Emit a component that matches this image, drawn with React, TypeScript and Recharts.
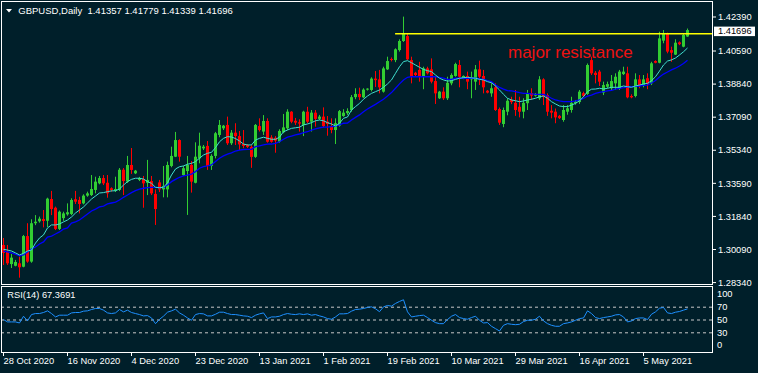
import React from 'react'
import { ComposedChart, Bar, Line, XAxis, YAxis, ReferenceLine } from 'recharts'

const BG = '#001f2a'
const BULL = '#32cd32'
const BEAR = '#ff0000'
const FONT = '"Liberation Sans", Arial, sans-serif'

// daily GBPUSD bars, 28 Oct 2020 .. 18 May 2021 (Sunday bars included)
const opens = [
  1.3033, 1.2997, 1.2932, 1.2923, 1.2936, 1.2918, 1.3080, 1.2945, 1.3148, 1.3158,
  1.3170, 1.3161, 1.3276, 1.3230, 1.3118, 1.3175, 1.3195, 1.3197, 1.3275, 1.3271,
  1.3253, 1.3294, 1.3297, 1.3324, 1.3359, 1.3387, 1.3362, 1.3333, 1.3320, 1.3324,
  1.3431, 1.3368, 1.3456, 1.3412, 1.3377, 1.3382, 1.3362, 1.3371, 1.3303, 1.3364,
  1.3327, 1.3327, 1.3451, 1.3500, 1.3588, 1.3403, 1.3424, 1.3456, 1.3362, 1.3491,
  1.3544, 1.3557, 1.3451, 1.3504, 1.3615, 1.3650, 1.3668, 1.3571, 1.3627, 1.3609,
  1.3567, 1.3562, 1.3552, 1.3499, 1.3662, 1.3633, 1.3689, 1.3602, 1.3600, 1.3579,
  1.3629, 1.3650, 1.3738, 1.3690, 1.3682, 1.3668, 1.3738, 1.3685, 1.3733, 1.3700,
  1.3712, 1.3685, 1.3662, 1.3641, 1.3664, 1.3715, 1.3730, 1.3747, 1.3815, 1.3832,
  1.3814, 1.3855, 1.3853, 1.3913, 1.3909, 1.3844, 1.3962, 1.4017, 1.4011, 1.4064,
  1.4112, 1.4138, 1.4011, 1.3944, 1.3959, 1.3923, 1.3967, 1.3962, 1.3900, 1.3809,
  1.3844, 1.3809, 1.3888, 1.3927, 1.3985, 1.3915, 1.3927, 1.3909, 1.3897, 1.3962,
  1.3927, 1.3849, 1.3835, 1.3867, 1.3752, 1.3673, 1.3738, 1.3800, 1.3785, 1.3764,
  1.3738, 1.3783, 1.3836, 1.3823, 1.3809, 1.3909, 1.3826, 1.3743, 1.3738, 1.3716,
  1.3694, 1.3738, 1.3747, 1.3783, 1.3789, 1.3836, 1.3832, 1.4011, 1.3944, 1.3950,
  1.3839, 1.3870, 1.3862, 1.3888, 1.3862, 1.3937, 1.3941, 1.3821, 1.3821, 1.3909,
  1.3879, 1.3915, 1.3888, 1.4006, 1.3997, 1.4114, 1.4153, 1.4064, 1.4040, 1.4105,
  1.4082, 1.41357,
]
const highs = [
  1.3070, 1.3033, 1.2985, 1.2954, 1.2971, 1.3086, 1.3148, 1.3169, 1.3191, 1.3183,
  1.3218, 1.3283, 1.3319, 1.3236, 1.3215, 1.3209, 1.3253, 1.3280, 1.3319, 1.3288,
  1.3301, 1.3315, 1.3403, 1.3394, 1.3398, 1.3403, 1.3403, 1.3338, 1.3394, 1.3440,
  1.3440, 1.3504, 1.3546, 1.3430, 1.3393, 1.3398, 1.3483, 1.3398, 1.3327, 1.3377,
  1.3451, 1.3474, 1.3553, 1.3631, 1.3592, 1.3451, 1.3504, 1.3477, 1.3576, 1.3627,
  1.3562, 1.3583, 1.3513, 1.3631, 1.3694, 1.3668, 1.3712, 1.3641, 1.3677, 1.3636,
  1.3641, 1.3567, 1.3561, 1.3673, 1.3703, 1.3720, 1.3703, 1.3614, 1.3609, 1.3645,
  1.3726, 1.3751, 1.3741, 1.3705, 1.3698, 1.3743, 1.3764, 1.3747, 1.3747, 1.3721,
  1.3761, 1.3715, 1.3703, 1.3703, 1.3747, 1.3751, 1.3756, 1.3826, 1.3862, 1.3865,
  1.3862, 1.3862, 1.3920, 1.3953, 1.3959, 1.3976, 1.4029, 1.4025, 1.4073, 1.4121,
  1.4241, 1.4153, 1.4029, 1.3949, 1.4002, 1.3976, 1.3976, 1.4020, 1.3923, 1.3848,
  1.3867, 1.3923, 1.3941, 1.3997, 1.4011, 1.3930, 1.3950, 1.3950, 1.3985, 1.4008,
  1.3959, 1.3853, 1.3888, 1.3888, 1.3760, 1.3760, 1.3809, 1.3817, 1.3853, 1.3817,
  1.3809, 1.3853, 1.3862, 1.3836, 1.3926, 1.3915, 1.3835, 1.3773, 1.3755, 1.3721,
  1.3773, 1.3773, 1.3817, 1.3800, 1.3853, 1.3844, 1.3993, 1.4029, 1.3953, 1.3959,
  1.3897, 1.3897, 1.3932, 1.3941, 1.3959, 1.3976, 1.3976, 1.3830, 1.3941, 1.3932,
  1.3932, 1.3941, 1.4002, 1.4010, 1.4161, 1.4170, 1.4156, 1.4082, 1.4121, 1.4110,
  1.4153, 1.41779,
]
const lows = [
  1.2927, 1.2927, 1.2911, 1.2920, 1.2860, 1.2915, 1.2939, 1.2939, 1.3138, 1.3151,
  1.3126, 1.3128, 1.3191, 1.3112, 1.3112, 1.3161, 1.3188, 1.3191, 1.3250, 1.3200,
  1.3248, 1.3288, 1.3292, 1.3306, 1.3354, 1.3350, 1.3283, 1.3315, 1.3313, 1.3318,
  1.3297, 1.3361, 1.3409, 1.3408, 1.3371, 1.3230, 1.3297, 1.3297, 1.3139, 1.3313,
  1.3285, 1.3285, 1.3444, 1.3498, 1.3474, 1.3398, 1.3192, 1.3310, 1.3359, 1.3465,
  1.3535, 1.3430, 1.3430, 1.3491, 1.3603, 1.3641, 1.3562, 1.3562, 1.3562, 1.3535,
  1.3545, 1.3546, 1.3441, 1.3494, 1.3633, 1.3615, 1.3574, 1.3574, 1.3521, 1.3574,
  1.3624, 1.3641, 1.3677, 1.3668, 1.3633, 1.3609, 1.3677, 1.3633, 1.3659, 1.3694,
  1.3655, 1.3611, 1.3624, 1.3567, 1.3659, 1.3711, 1.3721, 1.3738, 1.3804, 1.3800,
  1.3810, 1.3850, 1.3845, 1.3869, 1.3835, 1.3839, 1.3959, 1.4004, 1.4000, 1.4056,
  1.4107, 1.4011, 1.3888, 1.3925, 1.3897, 1.3857, 1.3935, 1.3888, 1.3779, 1.3805,
  1.3800, 1.3800, 1.3878, 1.3923, 1.3867, 1.3910, 1.3857, 1.3809, 1.3853, 1.3879,
  1.3835, 1.3835, 1.3817, 1.3742, 1.3668, 1.3656, 1.3719, 1.3778, 1.3716, 1.3708,
  1.3703, 1.3747, 1.3800, 1.3818, 1.3800, 1.3773, 1.3716, 1.3703, 1.3677, 1.3699,
  1.3685, 1.3722, 1.3733, 1.3775, 1.3779, 1.3815, 1.3827, 1.3932, 1.3888, 1.3874,
  1.3826, 1.3862, 1.3853, 1.3853, 1.3853, 1.3932, 1.3809, 1.3809, 1.3814, 1.3862,
  1.3867, 1.3857, 1.3879, 1.3994, 1.3994, 1.4100, 1.4047, 1.4002, 1.4038, 1.4090,
  1.4079, 1.41339,
]
const closes = [
  1.2991, 1.2936, 1.2966, 1.2943, 1.2915, 1.3080, 1.2945, 1.3148, 1.3156, 1.3172,
  1.3160, 1.3278, 1.3223, 1.3118, 1.3209, 1.3200, 1.3206, 1.3271, 1.3262, 1.3250,
  1.3294, 1.3306, 1.3329, 1.3368, 1.3387, 1.3359, 1.3306, 1.3324, 1.3329, 1.3431,
  1.3371, 1.3456, 1.3430, 1.3426, 1.3387, 1.3359, 1.3377, 1.3306, 1.3223, 1.3327,
  1.3345, 1.3456, 1.3504, 1.3588, 1.3500, 1.3439, 1.3456, 1.3368, 1.3500, 1.3558,
  1.3553, 1.3451, 1.3504, 1.3624, 1.3668, 1.3664, 1.3571, 1.3627, 1.3609, 1.3565,
  1.3557, 1.3552, 1.3499, 1.3668, 1.3641, 1.3689, 1.3579, 1.3579, 1.3585, 1.3636,
  1.3655, 1.3738, 1.3685, 1.3680, 1.3675, 1.3738, 1.3685, 1.3733, 1.3700, 1.3712,
  1.3662, 1.3673, 1.3641, 1.3677, 1.3741, 1.3733, 1.3742, 1.3815, 1.3832, 1.3815,
  1.3855, 1.3860, 1.3913, 1.3905, 1.3867, 1.3967, 1.4006, 1.4013, 1.4068, 1.4112,
  1.4153, 1.4015, 1.3923, 1.3932, 1.3923, 1.3967, 1.3941, 1.3897, 1.3835, 1.3844,
  1.3809, 1.3891, 1.3932, 1.3990, 1.3923, 1.3927, 1.3897, 1.3918, 1.3962, 1.3923,
  1.3867, 1.3839, 1.3862, 1.3747, 1.3680, 1.3747, 1.3796, 1.3789, 1.3747, 1.3738,
  1.3785, 1.3836, 1.3823, 1.3832, 1.3909, 1.3817, 1.3738, 1.3733, 1.3708, 1.3704,
  1.3747, 1.3756, 1.3785, 1.3791, 1.3844, 1.3822, 1.3985, 1.3941, 1.3932, 1.3897,
  1.3879, 1.3884, 1.3900, 1.3923, 1.3950, 1.3950, 1.3814, 1.3814, 1.3909, 1.3879,
  1.3909, 1.3885, 1.3994, 1.3997, 1.4126, 1.4153, 1.4056, 1.4050, 1.4103, 1.4095,
  1.4144, 1.41696,
]
// fast MA (turquoise) and slow MA (blue)
const maFast = [
  1.3010, 1.3006, 1.3001, 1.2991, 1.2980, 1.2989, 1.3001, 1.3006, 1.3043, 1.3070,
  1.3086, 1.3123, 1.3139, 1.3139, 1.3144, 1.3155, 1.3165, 1.3181, 1.3202, 1.3218,
  1.3234, 1.3255, 1.3276, 1.3292, 1.3308, 1.3310, 1.3315, 1.3319, 1.3320, 1.3329,
  1.3350, 1.3368, 1.3380, 1.3386, 1.3386, 1.3382, 1.3368, 1.3359, 1.3338, 1.3336,
  1.3338, 1.3362, 1.3403, 1.3435, 1.3447, 1.3451, 1.3460, 1.3465, 1.3474, 1.3492,
  1.3509, 1.3518, 1.3523, 1.3548, 1.3579, 1.3597, 1.3606, 1.3604, 1.3596, 1.3583,
  1.3567, 1.3562, 1.3562, 1.3588, 1.3597, 1.3603, 1.3597, 1.3592, 1.3592, 1.3603,
  1.3632, 1.3641, 1.3650, 1.3653, 1.3656, 1.3668, 1.3673, 1.3680, 1.3690, 1.3694,
  1.3690, 1.3680, 1.3673, 1.3662, 1.3677, 1.3703, 1.3710, 1.3747, 1.3765, 1.3782,
  1.3804, 1.3821, 1.3835, 1.3844, 1.3853, 1.3867, 1.3885, 1.3906, 1.3941, 1.3976,
  1.4003, 1.4008, 1.3997, 1.3985, 1.3973, 1.3962, 1.3955, 1.3950, 1.3932, 1.3915,
  1.3906, 1.3900, 1.3902, 1.3909, 1.3915, 1.3918, 1.3920, 1.3917, 1.3915, 1.3909,
  1.3906, 1.3897, 1.3891, 1.3874, 1.3853, 1.3830, 1.3809, 1.3800, 1.3796, 1.3791,
  1.3795, 1.3800, 1.3804, 1.3809, 1.3817, 1.3821, 1.3809, 1.3791, 1.3779, 1.3768,
  1.3765, 1.3765, 1.3773, 1.3782, 1.3796, 1.3817, 1.3844, 1.3857, 1.3858, 1.3862,
  1.3858, 1.3862, 1.3867, 1.3867, 1.3867, 1.3874, 1.3870, 1.3867, 1.3874, 1.3879,
  1.3885, 1.3888, 1.3902, 1.3923, 1.3953, 1.3985, 1.4006, 1.4012, 1.4022, 1.4038,
  1.4055, 1.4075,
]
const maSlow = [
  1.3001, 1.2997, 1.2991, 1.2985, 1.2975, 1.2980, 1.2996, 1.3012, 1.3022, 1.3038,
  1.3049, 1.3075, 1.3080, 1.3091, 1.3102, 1.3117, 1.3123, 1.3149, 1.3155, 1.3165,
  1.3181, 1.3197, 1.3213, 1.3223, 1.3234, 1.3239, 1.3250, 1.3255, 1.3260, 1.3271,
  1.3285, 1.3297, 1.3310, 1.3320, 1.3328, 1.3333, 1.3336, 1.3338, 1.3338, 1.3336,
  1.3338, 1.3350, 1.3368, 1.3380, 1.3391, 1.3398, 1.3403, 1.3408, 1.3421, 1.3439,
  1.3447, 1.3451, 1.3456, 1.3474, 1.3492, 1.3504, 1.3514, 1.3520, 1.3530, 1.3535,
  1.3538, 1.3539, 1.3539, 1.3553, 1.3557, 1.3562, 1.3566, 1.3567, 1.3571, 1.3579,
  1.3592, 1.3603, 1.3609, 1.3615, 1.3620, 1.3627, 1.3632, 1.3641, 1.3647, 1.3653,
  1.3656, 1.3656, 1.3659, 1.3662, 1.3668, 1.3677, 1.3678, 1.3694, 1.3708, 1.3721,
  1.3738, 1.3752, 1.3765, 1.3777, 1.3791, 1.3804, 1.3821, 1.3839, 1.3862, 1.3885,
  1.3906, 1.3920, 1.3923, 1.3923, 1.3923, 1.3923, 1.3923, 1.3923, 1.3923, 1.3920,
  1.3915, 1.3909, 1.3909, 1.3915, 1.3915, 1.3915, 1.3915, 1.3915, 1.3915, 1.3912,
  1.3909, 1.3902, 1.3897, 1.3879, 1.3867, 1.3857, 1.3849, 1.3848, 1.3844, 1.3839,
  1.3835, 1.3835, 1.3832, 1.3830, 1.3830, 1.3830, 1.3821, 1.3809, 1.3800, 1.3795,
  1.3791, 1.3791, 1.3791, 1.3795, 1.3800, 1.3808, 1.3821, 1.3826, 1.3835, 1.3840,
  1.3844, 1.3848, 1.3851, 1.3857, 1.3861, 1.3865, 1.3870, 1.3871, 1.3872, 1.3874,
  1.3877, 1.3879, 1.3890, 1.3903, 1.3922, 1.3937, 1.3948, 1.3959, 1.3968, 1.3980,
  1.3993, 1.4010,
]
// RSI(14)
const rsi = [
  50.7, 47.0, 47.0, 47.0, 45.4, 55.9, 48.6, 58.5, 60.1, 60.1,
  61.7, 64.3, 60.1, 54.8, 57.5, 57.5, 57.5, 61.1, 61.7, 61.7,
  63.8, 64.3, 66.4, 68.0, 68.0, 65.4, 61.1, 60.1, 61.1, 66.4,
  62.7, 65.4, 61.7, 60.1, 58.5, 56.4, 56.9, 53.2, 44.3, 51.0,
  56.0, 62.2, 64.3, 66.9, 61.1, 57.5, 53.2, 49.6, 58.5, 60.1,
  59.6, 56.4, 56.4, 59.0, 62.2, 62.2, 60.1, 58.5, 58.5, 57.5,
  56.4, 55.9, 53.8, 57.5, 59.6, 61.1, 52.2, 54.8, 54.8, 55.9,
  58.5, 60.1, 59.0, 58.5, 59.6, 58.5, 59.6, 57.5, 58.5, 56.4,
  54.8, 52.2, 51.2, 54.8, 59.6, 59.6, 60.1, 63.8, 66.4, 66.9,
  68.0, 69.6, 70.6, 67.5, 63.0, 70.6, 72.7, 71.7, 75.9, 79.0,
  81.6, 62.7, 54.8, 55.9, 56.9, 57.5, 53.8, 49.6, 45.9, 44.3,
  44.3, 50.7, 55.9, 58.5, 53.8, 52.2, 51.2, 53.8, 55.9, 49.6,
  45.4, 45.9, 40.2, 36.5, 32.8, 41.7, 44.3, 43.3, 42.7, 43.3,
  47.5, 49.6, 49.6, 51.2, 55.9, 48.6, 44.3, 41.7, 40.2, 40.2,
  44.3, 45.4, 47.0, 49.6, 52.2, 53.2, 64.3, 60.1, 53.8, 52.2,
  53.8, 54.8, 55.9, 58.0, 58.5, 54.8, 47.0, 48.6, 52.2, 53.2,
  53.2, 50.7, 59.0, 62.7, 68.5, 69.6, 61.1, 60.1, 62.2, 63.3,
  65.4, 67.37,
]

const dateTicks = [0, 16, 32, 48, 64, 80, 96, 112, 128, 144, 160]
const dateLabels = [
  '28 Oct 2020', '16 Nov 2020', '4 Dec 2020', '23 Dec 2020', '13 Jan 2021', '1 Feb 2021',
  '19 Feb 2021', '10 Mar 2021', '29 Mar 2021', '16 Apr 2021', '5 May 2021',
]
const priceTicks = [1.2834, 1.3009, 1.3184, 1.3359, 1.3534, 1.3709, 1.3884, 1.4059, 1.4239]
const rsiTicks = [0, 30, 50, 70, 100]
const rsiLevels = [70, 50, 30]

const resistance = 1.415
const resistanceFrom = 97.9
const lastClose = closes[closes.length - 1]

const rows = opens.map((open, i) => ({
  i,
  open,
  high: highs[i],
  low: lows[i],
  close: closes[i],
  range: [lows[i], highs[i]],
  maFast: maFast[i],
  maSlow: maSlow[i],
  rsi: rsi[i],
}))

// bars 4px apart, a bit of empty space on the right like MT4
const xDomain: [number, number] = [-0.375, 177.125]

function Candle(props: any) {
  const { x, y, width, height, payload } = props
  if (x == null || !payload) return null
  const top = Math.min(y, y + height)
  const h = Math.abs(height)
  const { open, close, high, low } = payload
  const span = high - low || 1e-9
  const py = (v: number) => top + ((high - v) / span) * h
  const cx = Math.round(x + width / 2 - 0.5)
  const col = close >= open ? BULL : BEAR
  const bTop = py(Math.max(open, close))
  const bBot = py(Math.min(open, close))
  return (
    <g>
      <rect x={cx} y={top} width={1} height={Math.max(h, 1)} fill={col} />
      <rect x={cx - 1} y={bTop} width={3} height={Math.max(bBot - bTop, 1)} fill={col} />
    </g>
  )
}

function PriceTick(props: any) {
  const { x, y, payload } = props
  return (
    <text x={x} y={y + 3.2} fill="#fff" fontSize={9.3} fontFamily={FONT}>
      {payload.value.toFixed(5)}
    </text>
  )
}

// MT4 keeps the 0 and 100 labels inside the sub-window
function RsiTick(props: any) {
  const { x, y, payload } = props
  const cy = Math.min(Math.max(y, 6.5), 58)
  return (
    <text x={x} y={cy + 3.2} fill="#fff" fontSize={9.3} fontFamily={FONT}>
      {payload.value}
    </text>
  )
}

function DateTick(props: any) {
  const { x, y, payload } = props
  const label = dateLabels[dateTicks.indexOf(payload.value)]
  return (
    <text x={x} y={y + 6} fill="#fff" fontSize={9.3} fontFamily={FONT}>
      {label}
    </text>
  )
}

function PriceBox(props: any) {
  const vb = props.viewBox
  if (!vb) return null
  const x = vb.x + vb.width + 2
  const y = vb.y
  return (
    <g>
      <rect x={x} y={y - 3.5} width={41} height={9.5} fill="#fff" />
      <text x={x + 4} y={y + 4.2} fontSize={9.3} fontFamily={FONT} fill="#000">
        {lastClose.toFixed(5)}
      </text>
    </g>
  )
}

export default function App() {
  return (
    <div style={{ position: 'relative', width: 758, height: 373, background: BG, overflow: 'hidden' }}>
      <style>{'body{margin:0}'}</style>
      <div style={{ position: 'absolute', left: 0, top: 0 }}>
        <ComposedChart width={758} height={290} data={rows} margin={{ top: 2, right: 0, bottom: 6, left: 2 }}>
          <XAxis type="number" dataKey="i" domain={xDomain} hide allowDataOverflow />
          <YAxis
            orientation="right"
            width={46}
            domain={[1.28265, 1.43183]}
            ticks={priceTicks}
            interval={0}
            tick={<PriceTick />}
            tickSize={4}
            tickMargin={2}
            axisLine={false}
            tickLine={{ stroke: '#fff' }}
            allowDataOverflow
          />
          <Bar dataKey="range" barSize={3} shape={<Candle />} isAnimationActive={false} />
          <Line type="linear" dataKey="maSlow" stroke="#0000ff" strokeWidth={1.3} dot={false} isAnimationActive={false} />
          <Line type="linear" dataKey="maFast" stroke="#40e0d0" strokeWidth={1} dot={false} isAnimationActive={false} />
          <ReferenceLine
            segment={[{ x: resistanceFrom, y: resistance }, { x: xDomain[1], y: resistance }]}
            stroke="#ffff00"
            strokeWidth={1.5}
          />
          <ReferenceLine y={lastClose} stroke="none" label={<PriceBox />} />
        </ComposedChart>
      </div>
      <div style={{ position: 'absolute', left: 0, top: 287 }}>
        <ComposedChart width={758} height={86} data={rows} margin={{ top: 1, right: 0, bottom: 0, left: 2 }}>
          <XAxis
            type="number"
            dataKey="i"
            domain={xDomain}
            ticks={dateTicks}
            interval={0}
            tick={<DateTick />}
            tickSize={4}
            tickMargin={2}
            height={21}
            axisLine={false}
            tickLine={{ stroke: '#fff' }}
            allowDataOverflow
          />
          <YAxis
            orientation="right"
            width={46}
            domain={[0, 100]}
            ticks={rsiTicks}
            interval={0}
            tick={<RsiTick />}
            tickSize={4}
            tickMargin={1}
            axisLine={false}
            tickLine={false}
          />
          {rsiLevels.map((v) => (
            <ReferenceLine key={v} y={v} stroke="#c8c8c8" strokeDasharray="3 3" />
          ))}
          <Line type="linear" dataKey="rsi" stroke="#1e90ff" strokeWidth={1} dot={false} isAnimationActive={false} />
        </ComposedChart>
      </div>
      <svg width={758} height={373} style={{ position: 'absolute', left: 0, top: 0, pointerEvents: 'none' }}>
        <rect x={1.5} y={1.5} width={711} height={283} fill="none" stroke="#fff" />
        <rect x={1.5} y={286.5} width={711} height={66} fill="none" stroke="#fff" />
        <polygon points="6,9 12,9 9,12.5" fill="#fff" />
        <text x={18.3} y={13.8} fill="#fff" fontSize={9.5} fontFamily={FONT} style={{ whiteSpace: 'pre' }}>
          {'GBPUSD,Daily  1.41357 1.41779 1.41339 1.41696'}
        </text>
        <text x={7.3} y={298} fill="#fff" fontSize={9.3} fontFamily={FONT}>
          RSI(14) 67.3691
        </text>
        <text x={508} y={58} fill="#ee1111" fontSize={17} fontFamily={FONT}>
          major resistance
        </text>
      </svg>
    </div>
  )
}
